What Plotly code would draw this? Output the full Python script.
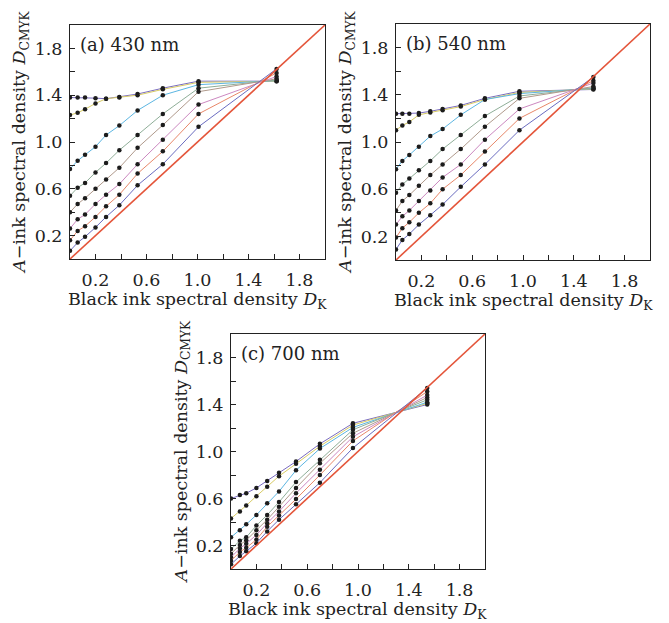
import plotly.graph_objects as go

W, H = 669, 623

# ---------------- data ----------------
# black-ink spectral density D_K (x) for each panel
xa_430 = [0, 0.06, 0.118, 0.2, 0.283, 0.387, 0.53, 0.728, 1.008, 1.62]
xb_540 = [0, 0.05, 0.105, 0.18, 0.27, 0.367, 0.51, 0.70, 0.972, 1.554]
xc_700 = [0, 0.07, 0.12, 0.2, 0.285, 0.378, 0.512, 0.70, 0.96, 1.545]

# A-ink spectral density D_CMYK, one list per CMY ink level (top to bottom)
ya_430 = [
    [1.38, 1.38, 1.38, 1.375, 1.37, 1.385, 1.41, 1.46, 1.52, 1.52],
    [1.23, 1.25, 1.28, 1.33, 1.37, 1.38, 1.40, 1.45, 1.51, 1.52],
    [0.77, 0.84, 0.89, 0.96, 1.06, 1.14, 1.27, 1.40, 1.49, 1.525],
    [0.54, 0.61, 0.65, 0.74, 0.82, 0.93, 1.06, 1.24, 1.46, 1.53],
    [0.40, 0.47, 0.52, 0.60, 0.68, 0.78, 0.95, 1.145, 1.43, 1.54],
    [0.26, 0.34, 0.38, 0.47, 0.55, 0.64, 0.81, 1.02, 1.32, 1.56],
    [0.16, 0.24, 0.28, 0.36, 0.45, 0.55, 0.73, 0.92, 1.24, 1.59],
    [0.07, 0.14, 0.19, 0.27, 0.36, 0.46, 0.63, 0.81, 1.13, 1.625],
]
yb_540 = [
    [1.24, 1.24, 1.24, 1.245, 1.26, 1.28, 1.31, 1.37, 1.43, 1.445],
    [1.10, 1.14, 1.17, 1.23, 1.25, 1.27, 1.30, 1.36, 1.42, 1.45],
    [0.77, 0.84, 0.89, 0.96, 1.05, 1.11, 1.23, 1.36, 1.41, 1.455],
    [0.57, 0.64, 0.69, 0.76, 0.84, 0.94, 1.06, 1.22, 1.39, 1.46],
    [0.42, 0.50, 0.55, 0.63, 0.72, 0.81, 0.94, 1.13, 1.37, 1.47],
    [0.30, 0.37, 0.42, 0.50, 0.59, 0.70, 0.81, 1.02, 1.28, 1.50],
    [0.19, 0.27, 0.32, 0.40, 0.48, 0.60, 0.72, 0.92, 1.20, 1.52],
    [0.09, 0.17, 0.22, 0.30, 0.38, 0.47, 0.62, 0.81, 1.10, 1.55],
]
yc_700 = [
    [0.60, 0.63, 0.645, 0.69, 0.75, 0.82, 0.915, 1.065, 1.24, 1.40],
    [0.43, 0.49, 0.54, 0.62, 0.70, 0.79, 0.895, 1.045, 1.225, 1.41],
    [0.27, 0.33, 0.38, 0.46, 0.56, 0.66, 0.84, 1.025, 1.205, 1.42],
    [0.17, 0.24, 0.27, 0.37, 0.46, 0.57, 0.74, 0.93, 1.185, 1.44],
    [0.13, 0.205, 0.245, 0.33, 0.42, 0.53, 0.69, 0.90, 1.155, 1.46],
    [0.10, 0.175, 0.215, 0.29, 0.39, 0.49, 0.645, 0.845, 1.125, 1.48],
    [0.07, 0.145, 0.18, 0.25, 0.36, 0.455, 0.595, 0.80, 1.09, 1.51],
    [0.04, 0.11, 0.15, 0.22, 0.32, 0.42, 0.55, 0.735, 1.03, 1.54],
]

# reference line D_CMYK = D_K
diag_x = [0.0, 2.0]
diag_y = [0.0, 2.0]

panel_titles = ["(a) 430 nm", "(b) 540 nm", "(c) 700 nm"]
tick_vals = [0.2, 0.6, 1.0, 1.4, 1.8]
tick_text = ["0.2", "0.6", "1.0", "1.4", "1.8"]
minor_vals = [0.4, 0.8, 1.2, 1.6]

line_colors = ["#7a6cc0", "#d8cc66", "#5cb6e2", "#8fae98",
               "#b09a8c", "#cc88c0", "#e8886a", "#6a6cc0"]
diag_color = "#e4553a"

# ---------------- layout geometry (pixels) ----------------
boxes = [(70, 325, 25, 259), (396, 650, 24, 260), (231, 485, 334, 569)]

FONT = "DejaVu Serif"
TXT = "#222222"
TICK_SIZE = 17.5
TITLE_SIZE = 17.5

fig = go.Figure()
panels = [(xa_430, ya_430), (xb_540, yb_540), (xc_700, yc_700)]

for i, (xs, ys) in enumerate(panels):
    xa = "x" if i == 0 else f"x{i+1}"
    ya = "y" if i == 0 else f"y{i+1}"
    for k, yv in enumerate(ys):
        fig.add_trace(go.Scatter(
            x=xs, y=yv, xaxis=xa, yaxis=ya, mode="lines+markers",
            line=dict(color=line_colors[k], width=1),
            marker=dict(color="#1c1c1c", size=4.5),
            showlegend=False, hoverinfo="skip"))
    fig.add_trace(go.Scatter(
        x=diag_x, y=diag_y, xaxis=xa, yaxis=ya, mode="lines",
        line=dict(color=diag_color, width=1.6),
        showlegend=False, hoverinfo="skip"))

def axis_common():
    return dict(
        range=[0, 2], showgrid=False, zeroline=False,
        showline=True, linecolor=TXT, linewidth=1, mirror=True,
        ticks="inside", ticklen=5, tickwidth=1, tickcolor=TXT,
        tickmode="array", tickvals=tick_vals, ticktext=tick_text,
        tickfont=dict(family=FONT, size=TICK_SIZE, color=TXT),
        minor=dict(tickmode="array", tickvals=minor_vals, ticks="inside",
                   ticklen=5, tickwidth=1, tickcolor=TXT),
        fixedrange=True,
    )

layout = dict(
    width=W, height=H, margin=dict(l=0, r=0, t=0, b=0),
    paper_bgcolor="white", plot_bgcolor="white", showlegend=False,
)
annotations = []
for i, (l, r, t, b) in enumerate(boxes):
    xk = "xaxis" if i == 0 else f"xaxis{i+1}"
    yk = "yaxis" if i == 0 else f"yaxis{i+1}"
    xn = "x" if i == 0 else f"x{i+1}"
    yn = "y" if i == 0 else f"y{i+1}"
    xd = axis_common()
    xd.update(domain=[l / W, r / W], anchor=yn, ticklabelstandoff=5)
    yd = axis_common()
    yd.update(domain=[1 - b / H, 1 - t / H], anchor=xn, ticklabelstandoff=3)
    layout[xk] = xd
    layout[yk] = yd
    cx = (l + r) / 2
    cy = (t + b) / 2
    # x-axis title
    annotations.append(dict(
        text="Black ink spectral density <i>D</i><sub>K</sub>",
        xref="paper", yref="paper", x=cx / W, y=1 - (b + 41) / H,
        xanchor="center", yanchor="middle", showarrow=False,
        font=dict(family=FONT, size=TITLE_SIZE, color=TXT)))
    # y-axis title
    annotations.append(dict(
        text="<i>A</i>−ink spectral density <i>D</i><sub>CMYK</sub>",
        xref="paper", yref="paper", x=(l - 49) / W, y=1 - cy / H,
        xanchor="center", yanchor="middle", textangle=-90, showarrow=False,
        font=dict(family=FONT, size=TITLE_SIZE, color=TXT)))
    # panel title
    annotations.append(dict(
        text=panel_titles[i], xref="paper", yref="paper",
        x=(l + 8) / W, y=1 - (t + 19) / H,
        xanchor="left", yanchor="middle", showarrow=False,
        font=dict(family=FONT, size=18, color=TXT)))

layout["annotations"] = annotations
fig.update_layout(**layout)

fig.write_html("out.html", config={"displayModeBar": False},
               post_script="document.body.style.margin='0';")
